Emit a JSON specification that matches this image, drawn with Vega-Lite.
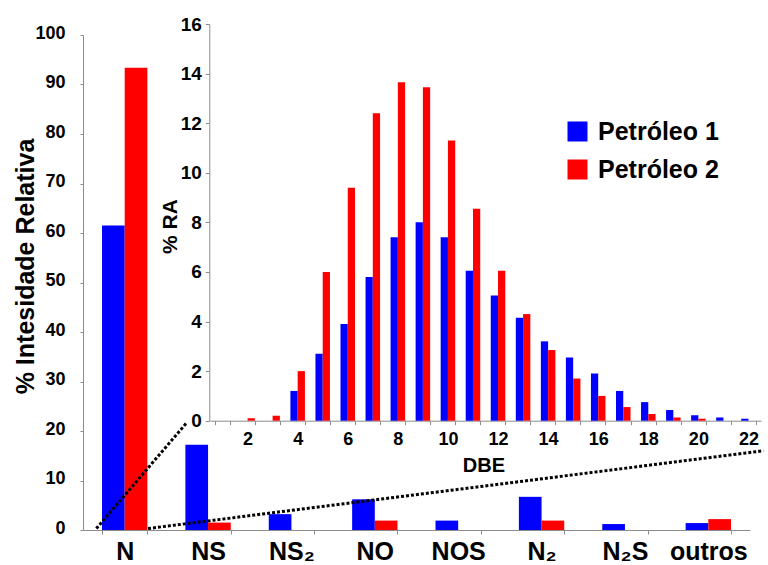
{
  "$schema": "https://vega.github.io/schema/vega-lite/v6.json",
  "width": 667,
  "height": 495,
  "autosize": {"type": "none"},
  "padding": {"left": 83, "top": 35, "right": 18, "bottom": 35},
  "background": "white",
  "config": {"view": {"stroke": null}, "font": "Liberation Sans"},
  "datasets": {
    "main": [
      {"cat": "N", "serie": "Petróleo 1", "val": 61.5},
      {"cat": "N", "serie": "Petróleo 2", "val": 93.4},
      {"cat": "NS", "serie": "Petróleo 1", "val": 17.2},
      {"cat": "NS", "serie": "Petróleo 2", "val": 1.5},
      {"cat": "NS₂", "serie": "Petróleo 1", "val": 3.2},
      {"cat": "NS₂", "serie": "Petróleo 2", "val": 0},
      {"cat": "NO", "serie": "Petróleo 1", "val": 6.2},
      {"cat": "NO", "serie": "Petróleo 2", "val": 1.9},
      {"cat": "NOS", "serie": "Petróleo 1", "val": 1.9},
      {"cat": "NOS", "serie": "Petróleo 2", "val": 0},
      {"cat": "N₂", "serie": "Petróleo 1", "val": 6.7},
      {"cat": "N₂", "serie": "Petróleo 2", "val": 1.9},
      {"cat": "N₂S", "serie": "Petróleo 1", "val": 1.2},
      {"cat": "N₂S", "serie": "Petróleo 2", "val": 0},
      {"cat": "outros", "serie": "Petróleo 1", "val": 1.4},
      {"cat": "outros", "serie": "Petróleo 2", "val": 2.2}
    ],
    "inset": [
      {"dbe": 2, "serie": "Petróleo 1", "ra": 0}, {"dbe": 2, "serie": "Petróleo 2", "ra": 0.1},
      {"dbe": 3, "serie": "Petróleo 1", "ra": 0}, {"dbe": 3, "serie": "Petróleo 2", "ra": 0.2},
      {"dbe": 4, "serie": "Petróleo 1", "ra": 1.2}, {"dbe": 4, "serie": "Petróleo 2", "ra": 2.0},
      {"dbe": 5, "serie": "Petróleo 1", "ra": 2.7}, {"dbe": 5, "serie": "Petróleo 2", "ra": 6.0},
      {"dbe": 6, "serie": "Petróleo 1", "ra": 3.9}, {"dbe": 6, "serie": "Petróleo 2", "ra": 9.4},
      {"dbe": 7, "serie": "Petróleo 1", "ra": 5.8}, {"dbe": 7, "serie": "Petróleo 2", "ra": 12.4},
      {"dbe": 8, "serie": "Petróleo 1", "ra": 7.4}, {"dbe": 8, "serie": "Petróleo 2", "ra": 13.65},
      {"dbe": 9, "serie": "Petróleo 1", "ra": 8.0}, {"dbe": 9, "serie": "Petróleo 2", "ra": 13.45},
      {"dbe": 10, "serie": "Petróleo 1", "ra": 7.4}, {"dbe": 10, "serie": "Petróleo 2", "ra": 11.3},
      {"dbe": 11, "serie": "Petróleo 1", "ra": 6.05}, {"dbe": 11, "serie": "Petróleo 2", "ra": 8.55},
      {"dbe": 12, "serie": "Petróleo 1", "ra": 5.05}, {"dbe": 12, "serie": "Petróleo 2", "ra": 6.05},
      {"dbe": 13, "serie": "Petróleo 1", "ra": 4.15}, {"dbe": 13, "serie": "Petróleo 2", "ra": 4.3},
      {"dbe": 14, "serie": "Petróleo 1", "ra": 3.2}, {"dbe": 14, "serie": "Petróleo 2", "ra": 2.85},
      {"dbe": 15, "serie": "Petróleo 1", "ra": 2.55}, {"dbe": 15, "serie": "Petróleo 2", "ra": 1.7},
      {"dbe": 16, "serie": "Petróleo 1", "ra": 1.9}, {"dbe": 16, "serie": "Petróleo 2", "ra": 1.0},
      {"dbe": 17, "serie": "Petróleo 1", "ra": 1.2}, {"dbe": 17, "serie": "Petróleo 2", "ra": 0.55},
      {"dbe": 18, "serie": "Petróleo 1", "ra": 0.75}, {"dbe": 18, "serie": "Petróleo 2", "ra": 0.27},
      {"dbe": 19, "serie": "Petróleo 1", "ra": 0.43}, {"dbe": 19, "serie": "Petróleo 2", "ra": 0.13},
      {"dbe": 20, "serie": "Petróleo 1", "ra": 0.22}, {"dbe": 20, "serie": "Petróleo 2", "ra": 0.08},
      {"dbe": 21, "serie": "Petróleo 1", "ra": 0.13}, {"dbe": 21, "serie": "Petróleo 2", "ra": 0},
      {"dbe": 22, "serie": "Petróleo 1", "ra": 0.08}, {"dbe": 22, "serie": "Petróleo 2", "ra": 0}
    ],
    "lines": [
      {"xa": 0.16, "ya": 0.3, "xb": 1.24, "yb": 21.6},
      {"xa": 0.78, "ya": 0.3, "xb": 8.16, "yb": 16.0}
    ]
  },
  "layer": [
    {
      "data": {"name": "main"},
      "mark": {"type": "bar"},
      "encoding": {
        "x": {
          "field": "cat", "type": "nominal",
          "sort": ["N", "NS", "NS₂", "NO", "NOS", "N₂", "N₂S", "outros"],
          "scale": {"paddingInner": 0.456, "paddingOuter": 0.228},
          "axis": {
            "orient": "bottom", "title": null, "labelAngle": 0,
            "labelFont": "Liberation Sans", "labelFontSize": 25, "labelFontWeight": "bold", "labelColor": "black",
            "tickBand": "extent", "tickSize": 4, "tickColor": "#8c8c8c", "domainColor": "#8c8c8c",
            "labelPadding": 25, "labelBaseline": "alphabetic", "grid": false
          }
        },
        "xOffset": {"field": "serie", "type": "nominal", "sort": ["Petróleo 1", "Petróleo 2"]},
        "y": {
          "field": "val", "type": "quantitative",
          "scale": {"domain": [0, 100], "nice": false},
          "axis": {
            "orient": "left", "title": "% Intesidade Relativa",
            "values": [0, 10, 20, 30, 40, 50, 60, 70, 80, 90, 100],
            "tickSize": 3, "labelPadding": 15, "labelFont": "Liberation Sans", "labelFontSize": 18,
            "labelFontWeight": "bold", "labelColor": "black", "labelOffset": -2,
            "domainColor": "#8c8c8c", "tickColor": "#8c8c8c", "grid": false,
            "titleFont": "Liberation Sans", "titleFontSize": 25, "titleFontWeight": "bold", "titleColor": "black",
            "titleX": -49.5, "titleY": 231, "titleAngle": 270, "titleBaseline": "alphabetic", "titleAlign": "center"
          }
        },
        "color": {
          "field": "serie", "type": "nominal",
          "scale": {"domain": ["Petróleo 1", "Petróleo 2"], "range": ["#0000ff", "#ff0000"]},
          "legend": {
            "orient": "none", "legendX": 482, "legendY": 84, "title": null,
            "symbolType": "square", "symbolSize": 400, "symbolStrokeWidth": 0, "symbolOpacity": 1,
            "labelFont": "Liberation Sans", "labelFontSize": 25, "labelFontWeight": "bold", "labelColor": "black",
            "labelOffset": 8, "rowPadding": 12, "padding": 0
          }
        }
      }
    },
    {
      "data": {"name": "inset"},
      "mark": {"type": "bar"},
      "encoding": {
        "x": {
          "field": "dbe", "type": "ordinal",
          "scale": {
            "domain": [1, 2, 3, 4, 5, 6, 7, 8, 9, 10, 11, 12, 13, 14, 15, 16, 17, 18, 19, 20, 21, 22],
            "range": [127, 678], "paddingInner": 0.42, "paddingOuter": 0.21
          },
          "axis": {
            "orient": "bottom", "offset": -109.3, "title": "DBE",
            "labelExpr": "datum.value % 2 === 0 ? datum.label : ''",
            "labelAngle": 0, "tickBand": "extent", "tickSize": 4, "tickColor": "#8c8c8c", "domainColor": "#8c8c8c",
            "labelFont": "Liberation Sans", "labelFontSize": 18, "labelFontWeight": "bold", "labelColor": "black",
            "labelPadding": 20, "labelBaseline": "alphabetic", "grid": false,
            "titleFont": "Liberation Sans", "titleFontSize": 20, "titleFontWeight": "bold", "titleColor": "black",
            "titleX": 400.4, "titleY": 51, "titleBaseline": "alphabetic", "titleAlign": "center"
          }
        },
        "xOffset": {"field": "serie", "type": "nominal", "sort": ["Petróleo 1", "Petróleo 2"]},
        "y": {
          "field": "ra", "type": "quantitative",
          "scale": {"domain": [0, 16], "range": [385.7, -11], "nice": false},
          "axis": {
            "orient": "left", "offset": -126.3, "title": "% RA",
            "values": [0, 2, 4, 6, 8, 10, 12, 14, 16],
            "tickSize": 4, "labelPadding": 4, "labelFont": "Liberation Sans", "labelFontSize": 19,
            "labelFontWeight": "bold", "labelColor": "black",
            "domainColor": "#8c8c8c", "tickColor": "#8c8c8c", "grid": false,
            "titleFont": "Liberation Sans", "titleFontSize": 21, "titleFontWeight": "bold", "titleColor": "black",
            "titleX": -32.6, "titleY": 191, "titleAngle": 270, "titleBaseline": "alphabetic", "titleAlign": "center"
          }
        },
        "color": {"field": "serie", "type": "nominal"}
      }
    },
    {
      "data": {"name": "lines"},
      "mark": {"type": "rule", "strokeWidth": 3, "strokeDash": [3, 2], "color": "black"},
      "encoding": {
        "x": {"field": "xa", "type": "quantitative", "scale": {"domain": [0, 8], "nice": false, "zero": false}, "axis": null},
        "x2": {"field": "xb"},
        "y": {"field": "ya", "type": "quantitative", "scale": {"domain": [0, 100], "nice": false, "zero": false}, "axis": null},
        "y2": {"field": "yb"}
      }
    }
  ],
  "resolve": {
    "scale": {"x": "independent", "y": "independent", "xOffset": "independent"},
    "axis": {"x": "independent", "y": "independent"}
  }
}
